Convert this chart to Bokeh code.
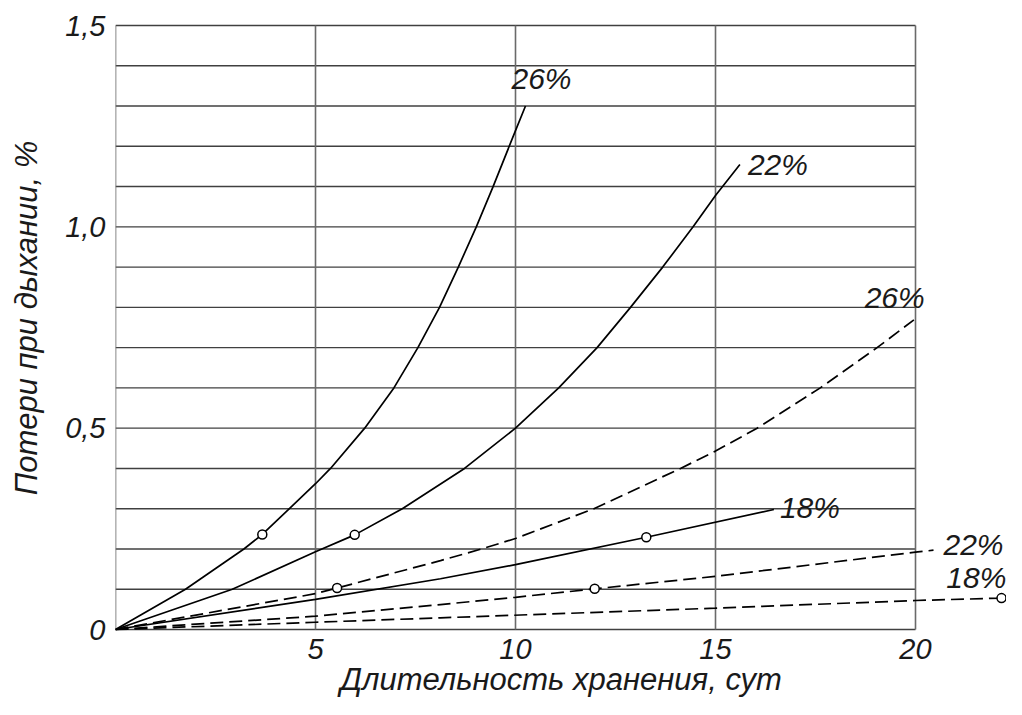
from bokeh.plotting import figure
from bokeh.models import Range1d, FixedTicker, CustomJSTickFormatter
from bokeh.core.properties import value
from bokeh.embed import file_html
from bokeh.resources import INLINE

# ---- data ----
# solid curves
days_s26 = [0, 1.75, 3.21, 3.67, 5.0, 5.375, 6.23, 6.96, 7.56, 8.10, 8.57, 9.02, 9.44, 10.0, 10.25]
loss_s26 = [0, 0.10, 0.20, 0.236, 0.362, 0.40, 0.50, 0.60, 0.70, 0.80, 0.90, 1.00, 1.10, 1.239, 1.30]

days_s22 = [0, 2.92, 5.0, 5.98, 7.17, 8.725, 10.0, 11.08, 12.04, 12.875, 13.68, 14.44, 15.0, 15.61]
loss_s22 = [0, 0.10, 0.193, 0.235, 0.30, 0.40, 0.50, 0.60, 0.70, 0.80, 0.90, 1.00, 1.078, 1.155]

days_s18 = [0, 5.0, 8.125, 10.0, 13.27, 16.46]
loss_s18 = [0, 0.075, 0.126, 0.161, 0.229, 0.298]

# dashed curves
days_d26 = [0, 5.0, 5.54, 8.125, 9.15, 10.0, 11.96, 14.125, 15.0, 16.04, 17.62, 19.04, 19.96]
loss_d26 = [0, 0.089, 0.103, 0.171, 0.20, 0.226, 0.30, 0.40, 0.443, 0.50, 0.60, 0.70, 0.769]

days_d22 = [0, 5.0, 8.125, 10.0, 11.98, 15.0, 20.0, 20.45]
loss_d22 = [0, 0.033, 0.062, 0.080, 0.101, 0.132, 0.192, 0.197]

days_d18 = [0, 5.0, 8.125, 15.0, 20.0, 22.15, 22.5]
loss_d18 = [0, 0.018, 0.029, 0.053, 0.072, 0.078, 0.080]

# marked points
mark_days = [3.67, 5.98, 5.54, 13.27, 11.98, 22.15]
mark_loss = [0.236, 0.235, 0.103, 0.229, 0.101, 0.078]

# curve labels
curve_labels = ["26%", "22%", "26%", "18%", "22%", "18%"]
label_days = [10.65, 16.56, 19.48, 17.36, 21.45, 21.52]
label_loss = [1.368, 1.155, 0.825, 0.302, 0.211, 0.128]

x_ticks = [5, 10, 15, 20]
y_ticks = [0, 0.5, 1.0, 1.5]
grid_step_y = 0.1
grid_x = [0, 5, 10, 15, 20]
x_max_grid = 20
y_max_grid = 1.5

x_title = "Длительность хранения, сут"
y_title = "Потери при дыхании, %"

FONT = "Liberation Sans"

# ---- layout (pixels) ----
W, H = 1006, 699
LEFT, TOP, BOTTOM = 115, 0, 64
PX_PER_X = 40.0            # px per day
PX_PER_Y = 604.0 / 1.5     # px per percent
Y0_PX = 629                # pixel row of zero loss
Y15_PX = 25                # pixel row of 1.5
frame_bottom = H - BOTTOM
x_end = (W - LEFT) / PX_PER_X
y_start = -(frame_bottom - Y0_PX) / PX_PER_Y
y_end = y_max_grid + (Y15_PX - TOP) / PX_PER_Y

p = figure(width=W, height=H, output_backend="svg", toolbar_location=None,
           x_range=Range1d(0, x_end), y_range=Range1d(y_start, y_end),
           min_border_left=LEFT, min_border_right=0, min_border_top=TOP,
           min_border_bottom=BOTTOM)
p.outline_line_color = None
p.xgrid.visible = False
p.ygrid.visible = False
p.background_fill_color = "white"
p.border_fill_color = "white"

# axes: labels only
for ax in (p.xaxis[0], p.yaxis[0]):
    ax.axis_line_color = None
    ax.major_tick_line_color = None
    ax.minor_tick_line_color = None
    ax.major_tick_out = 0
    ax.major_tick_in = 0
    ax.major_label_text_font = FONT
    ax.major_label_text_font_style = "italic"
    ax.major_label_text_font_size = "29px"
    ax.major_label_text_color = "#1a1a1a"
    ax.axis_label_text_font = FONT
    ax.axis_label_text_font_style = "italic"
    ax.axis_label_text_font_size = "31px"
    ax.axis_label_text_color = "#1a1a1a"

p.xaxis.ticker = FixedTicker(ticks=x_ticks)
p.xaxis.major_label_standoff = 3
p.xaxis.axis_label = x_title
p.xaxis.axis_label_standoff = 0

p.yaxis.ticker = FixedTicker(ticks=y_ticks)
p.yaxis.major_label_standoff = 10
p.yaxis.formatter = CustomJSTickFormatter(
    code="return tick == 0 ? '0' : tick.toFixed(1).replace('.', ',');")
p.yaxis.axis_label = y_title
p.yaxis.axis_label_standoff = 18

# grid lines limited to the chart box
n_h = int(round(y_max_grid / grid_step_y))
hy = [round(i * grid_step_y, 2) for i in range(n_h + 1)]
p.segment(x0=[0] * len(hy), y0=hy, x1=[x_max_grid] * len(hy), y1=hy,
          line_color="#404040", line_width=1.4)
p.segment(x0=grid_x, y0=[0] * len(grid_x), x1=grid_x, y1=[y_max_grid] * len(grid_x),
          line_color="#6a6a6a", line_width=1.6)

# curves
for xs, ys in [(days_s26, loss_s26), (days_s22, loss_s22), (days_s18, loss_s18)]:
    p.line(xs, ys, line_color="black", line_width=1.7)
for xs, ys in [(days_d26, loss_d26), (days_d22, loss_d22), (days_d18, loss_d18)]:
    p.line(xs, ys, line_color="black", line_width=1.7, line_dash="13 6")

p.scatter(mark_days, mark_loss, marker="circle", size=9, fill_color="white",
          line_color="black", line_width=1.5)

p.text(x=label_days, y=label_loss, text=curve_labels,
       text_font=value(FONT), text_font_style="italic", text_font_size="30px",
       text_align="center", text_baseline="middle", text_color="#1a1a1a")

open("out.html", "w").write(file_html(p, INLINE))
